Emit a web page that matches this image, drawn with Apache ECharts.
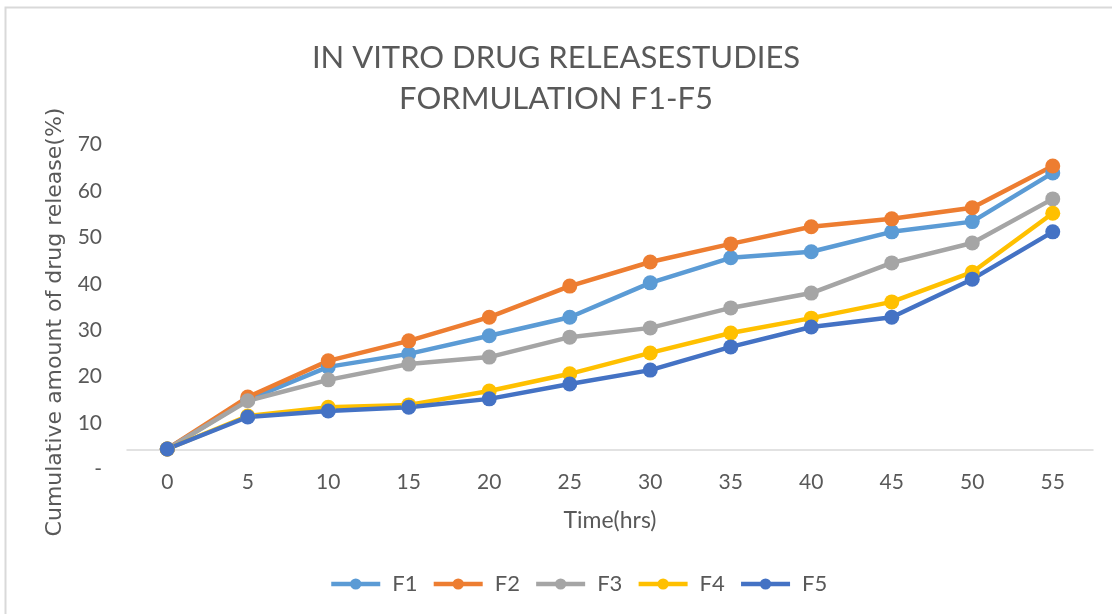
<!DOCTYPE html>
<html>
<head>
<meta charset="utf-8">
<script src="https://cdn.jsdelivr.net/npm/echarts@6/dist/echarts.min.js"></script>
<style>
  html, body { margin: 0; padding: 0; background: #fff; }
  #chart { width: 1112px; height: 614px; }
</style>
</head>
<body>
<div id="chart"></div>
<script>
// time points (hrs)
var hours = ['0', '5', '10', '15', '20', '25', '30', '35', '40', '45', '50', '55']
// cumulative release (%)
var f1 = [4.4, 15.0, 22.1, 24.9, 28.8, 32.8, 40.2, 45.6, 46.9, 51.2, 53.4, 63.9]
var f2 = [4.4, 15.6, 23.4, 27.7, 32.8, 39.5, 44.7, 48.6, 52.3, 54.0, 56.4, 65.4]
var f3 = [4.4, 14.8, 19.3, 22.7, 24.2, 28.5, 30.5, 34.8, 38.0, 44.5, 48.8, 58.3]
var f4 = [4.4, 11.5, 13.4, 13.9, 16.9, 20.6, 25.1, 29.4, 32.6, 36.1, 42.5, 55.2]
var f5 = [4.4, 11.3, 12.6, 13.4, 15.2, 18.4, 21.4, 26.4, 30.7, 32.8, 41.0, 51.2]
var seriesNames = ['F1', 'F2', 'F3', 'F4', 'F5']
var colors = ['#5B9BD5', '#ED7D31', '#A5A5A5', '#FFC000', '#4472C4']

var font = 'Lato, "Open Sans", sans-serif'
var textColor = '#595959'

function lineSeries (name, data, color) {
  return {
    name: name,
    type: 'line',
    data: data,
    symbol: 'circle',
    symbolSize: 15,
    lineStyle: { width: 4.5, color: color },
    itemStyle: { color: color },
    animation: false
  }
}

var option = {
  backgroundColor: '#fff',
  color: colors,
  title: {
    text: 'IN VITRO DRUG RELEASESTUDIES\nFORMULATION F1-F5',
    left: 'center',
    top: 32,
    textStyle: {
      fontFamily: font,
      fontWeight: 'normal',
      fontSize: 31,
      lineHeight: 41,
      color: textColor
    }
  },
  legend: {
    bottom: 14,
    left: 324,
    itemWidth: 49,
    itemHeight: 14,
    itemGap: 14,
    lineStyle: { width: 4.5 },
    textStyle: { fontFamily: font, fontSize: 22, color: textColor, padding: [0, 0, 0, 7] },
    data: seriesNames
  },
  grid: {
    left: 127,
    right: 19,
    top: 144.6,
    bottom: 144.6
  },
  xAxis: {
    type: 'category',
    data: hours,
    boundaryGap: true,
    offset: -20,
    name: 'Time(hrs)',
    nameLocation: 'middle',
    nameGap: 60,
    nameTextStyle: { fontFamily: font, fontSize: 23, color: textColor },
    axisLine: { onZero: false, lineStyle: { color: '#d9d9d9', width: 1.5 } },
    axisTick: { show: false },
    axisLabel: { margin: 22, fontFamily: font, fontSize: 21, color: textColor }
  },
  yAxis: {
    type: 'value',
    min: 0,
    max: 70,
    interval: 10,
    name: 'Cumulative amount of drug release(%)',
    nameLocation: 'middle',
    nameRotate: 90,
    nameGap: 32,
    nameTextStyle: {
      fontFamily: '"DejaVu Sans", sans-serif',
      fontSize: 22,
      color: textColor,
      padding: [0, 30, 0, 0]
    },
    axisLine: { show: false },
    axisTick: { show: false },
    splitLine: { show: false },
    axisLabel: {
      margin: 25,
      fontFamily: font,
      fontSize: 21,
      color: textColor,
      formatter: function (v) { return v === 0 ? '-' : v }
    }
  },
  graphic: [{
    type: 'rect',
    shape: { x: 5.5, y: 7.5, width: 1120, height: 620 },
    style: { fill: 'none', stroke: '#d9d9d9', lineWidth: 2 },
    silent: true
  }],
  series: [
    lineSeries('F1', f1, colors[0]),
    lineSeries('F2', f2, colors[1]),
    lineSeries('F3', f3, colors[2]),
    lineSeries('F4', f4, colors[3]),
    lineSeries('F5', f5, colors[4])
  ]
}

var chart = echarts.init(document.getElementById('chart'))
chart.setOption(option)
window.addEventListener('resize', function () {
  chart.resize()
})
</script>
</body>
</html>
